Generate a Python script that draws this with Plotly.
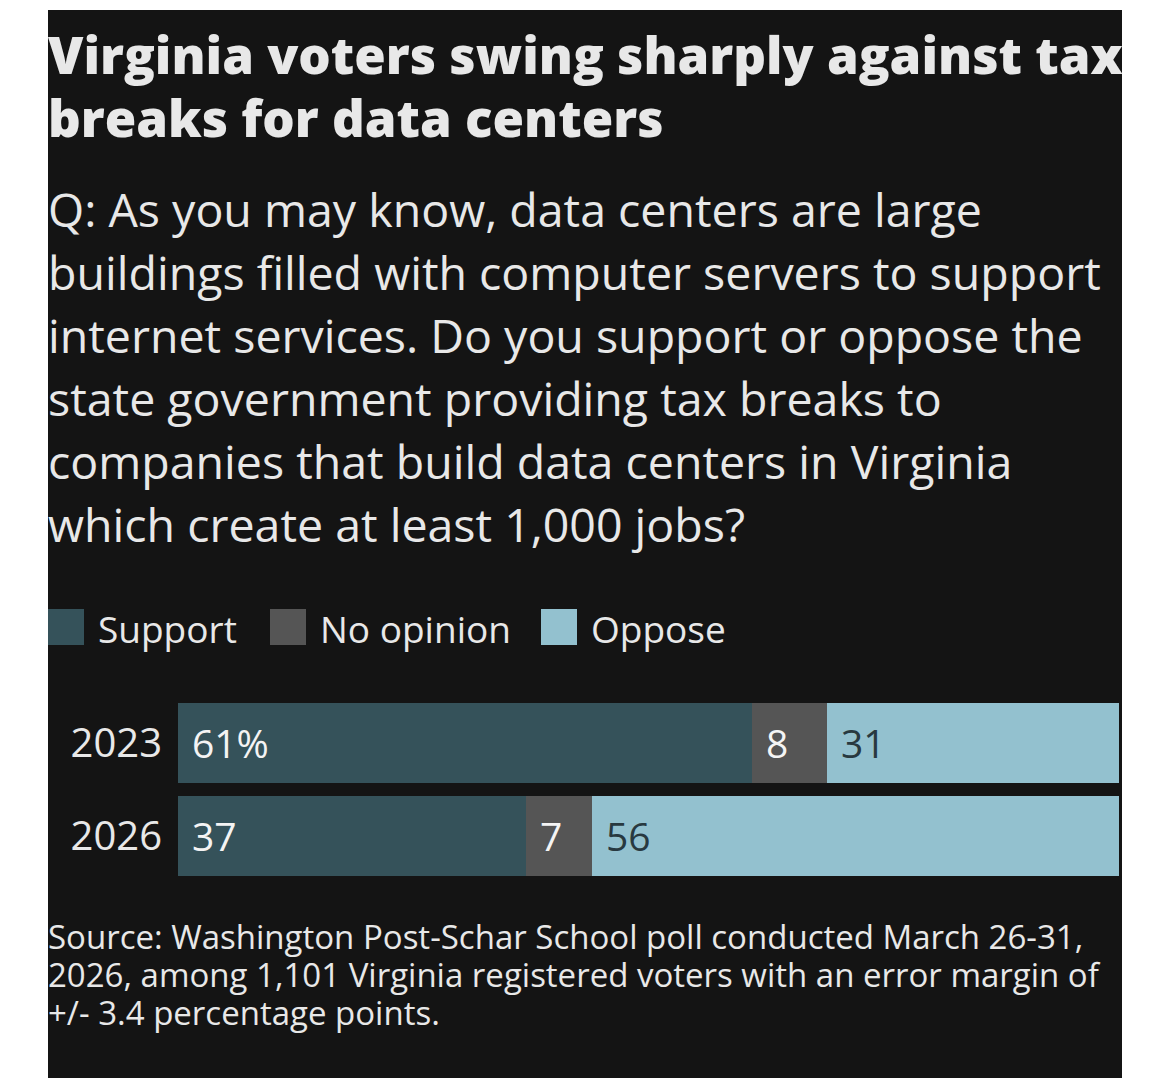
# Virginia voters on tax breaks for data centers (Post-Schar School poll)

import plotly.graph_objects as go

years = ['2023', '2026']
categories = ['Support', 'No opinion', 'Oppose']
support = [61, 37]
no_opinion = [8, 7]
oppose = [31, 56]

colors = ['#35525a', '#555555', '#93c1cf']
label_colors = ['#f4f4f4', '#f4f4f4', '#283940']

title_lines = ['Virginia voters swing sharply against tax',
               'breaks for data centers']
question_lines = ['Q: As you may know, data centers are large',
                  'buildings filled with computer servers to support',
                  'internet services. Do you support or oppose the',
                  'state government providing tax breaks to',
                  'companies that build data centers in Virginia',
                  'which create at least 1,000 jobs?']
source_lines = ['Source: Washington Post-Schar School poll conducted March 26-31,',
                '2026, among 1,101 Virginia registered voters with an error margin of',
                '+/- 3.4 percentage points.']

BG = '#141414'
FG = '#e8e8e8'
W, H = 1170, 1078
L, R, T, B = 48, 48, 10, 0
FONT = 'Open Sans, Noto Sans, Liberation Sans, sans-serif'


def px(x):
    return (x - L) / (W - L - R)


def py(y):
    return (H - B - y) / (H - T - B)


series = [support, no_opinion, oppose]

fig = go.Figure()
for name, vals, col in zip(categories, series, colors):
    fig.add_trace(go.Bar(x=vals, y=years, name=name, orientation='h',
                         marker=dict(color=col, line=dict(width=0)),
                         hoverinfo='skip', showlegend=False))

annotations = []
# labels inside the bars
for i, yr in enumerate(years):
    base = 0
    for j, vals in enumerate(series):
        txt = str(vals[i])
        if i == 0 and j == 0:
            txt += '%'
        annotations.append(dict(x=base, y=i, xref='x', yref='y', text=txt,
                                xanchor='left', yanchor='middle', xshift=12, yshift=1,
                                showarrow=False,
                                font=dict(size=39, color=label_colors[j], family=FONT)))
        base += vals[i]


def text_line(line, y, size, weight=None):
    font = dict(size=size, color=FG, family=FONT)
    if weight:
        font['weight'] = weight
    return dict(x=px(46), y=py(y), xref='paper', yref='paper', text=line,
                xanchor='left', yanchor='middle', showarrow=False, font=font)


for k, line in enumerate(title_lines):
    annotations.append(text_line(line, 54 + 63 * k, 51, weight=800))

for k, line in enumerate(question_lines):
    annotations.append(text_line(line, 209 + 63 * k, 46.5))

for k, line in enumerate(source_lines):
    annotations.append(text_line(line, 936 + 38 * k, 33))

# legend: swatches + names
shapes = [dict(type='rect', xref='paper', yref='paper', x0=0, x1=1, y0=0, y1=1,
               fillcolor=BG, line=dict(width=0), layer='below')]
leg_x = [48, 270, 541]
for name, col, x0 in zip(categories, colors, leg_x):
    shapes.append(dict(type='rect', xref='paper', yref='paper',
                       x0=px(x0), x1=px(x0 + 36), y0=py(645), y1=py(609),
                       fillcolor=col, line=dict(width=0)))
    annotations.append(dict(x=px(x0 + 48), y=py(628), xref='paper', yref='paper',
                            text=name, xanchor='left', yanchor='middle', showarrow=False,
                            font=dict(size=37, color=FG, family=FONT)))

fig.update_layout(
    width=W, height=H,
    margin=dict(l=L, r=R, t=T, b=B, autoexpand=False),
    paper_bgcolor='white',
    plot_bgcolor='rgba(0,0,0,0)',
    barmode='stack',
    bargap=0.14,
    showlegend=False,
    shapes=shapes,
    annotations=annotations,
    xaxis=dict(domain=[px(178), px(1119)], range=[0, 100], autorange=False,
               visible=False, fixedrange=True, automargin=False),
    yaxis=dict(domain=[py(882.5), py(696.5)], type='category', categoryarray=years,
               range=[1.5, -0.5], autorange=False, automargin=False,
               showgrid=False, zeroline=False, showline=False, ticks='',
               ticklabelstandoff=15,
               tickfont=dict(size=40, color=FG, family=FONT), fixedrange=True),
)

fig.write_html('out.html', config={'displayModeBar': False},
               post_script="document.body.style.margin='0';"
                           "document.body.style.overflow='hidden';")
